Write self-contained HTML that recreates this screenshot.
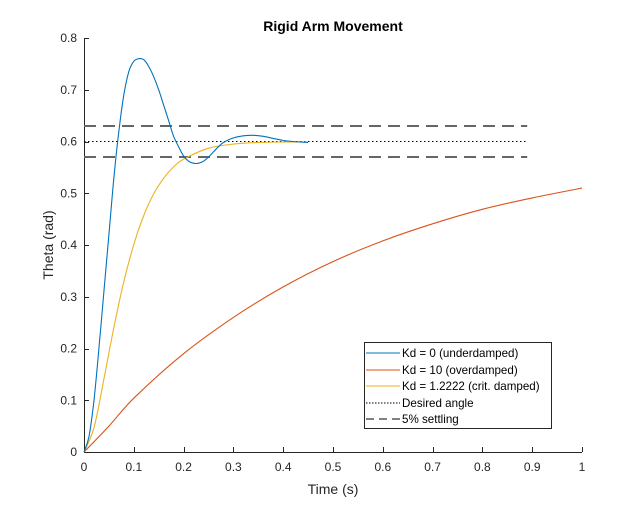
<!DOCTYPE html>
<html><head><meta charset="utf-8"><style>
body{margin:0;background:#fff;}
svg text{font-family:"Liberation Sans",Arial,sans-serif;}
</style></head><body>
<svg id="chart" width="644" height="508" xmlns="http://www.w3.org/2000/svg">
<rect width="644" height="508" fill="#fff"/>
<text x="333" y="31" text-anchor="middle" font-size="14" font-weight="bold" fill="#000">Rigid Arm Movement</text>
<g id="axes"></g>
<g id="series"></g>
<text x="333" y="494" text-anchor="middle" font-size="14" fill="#262626">Time (s)</text>
<text transform="translate(53,245) rotate(-90)" text-anchor="middle" font-size="14" fill="#262626">Theta (rad)</text>
<g>
<rect x="364.5" y="342.5" width="187" height="86" fill="#fff" stroke="#262626" stroke-width="1"/>
<line x1="366" y1="353" x2="400" y2="353" stroke="#0072BD"/>
<text x="402" y="357" font-size="11.6">Kd = 0 (underdamped)</text>
<line x1="366" y1="370" x2="400" y2="370" stroke="#D95319"/>
<text x="402" y="374" font-size="11.6">Kd = 10 (overdamped)</text>
<line x1="366" y1="386" x2="400" y2="386" stroke="#EDB120"/>
<text x="402" y="390" font-size="11.6">Kd = 1.2222 (crit. damped)</text>
<line x1="366" y1="403" x2="400" y2="403" stroke="#000" stroke-dasharray="1.5 1.5"/>
<text x="402" y="407" font-size="11.6">Desired angle</text>
<line x1="366" y1="419" x2="400" y2="419" stroke="#000" stroke-dasharray="8 5"/>
<text x="402" y="423" font-size="11.6">5% settling</text>
</g>
</svg>
<script>
const xTicks=[0,0.1,0.2,0.3,0.4,0.5,0.6,0.7,0.8,0.9,1];
const yTicks=[0,0.1,0.2,0.3,0.4,0.5,0.6,0.7,0.8];
const xTickLabels=["0","0.1","0.2","0.3","0.4","0.5","0.6","0.7","0.8","0.9","1"];
const yTickLabels=["0","0.1","0.2","0.3","0.4","0.5","0.6","0.7","0.8"];
const tUnder=[0,.01,.02,.03,.04,.05,.06,.07,.08,.09,.10,.11,.12,.13,.14,.15,.16,.17,.18,.19,.20,.21,.22,.23,.24,.25,.26,.27,.28,.30,.32,.34,.36,.38,.40,.42,.45];
const thetaUnder=[0,.03,.1,.2,.31,.42,.53,.62,.69,.735,.755,.76,.758,.745,.725,.70,.67,.64,.61,.59,.572,.562,.558,.558,.562,.57,.58,.59,.598,.607,.611,.612,.61,.606,.602,.600,.598];
const tOver=[0,.05,.1,.2,.3,.4,.5,.6,.7,.8,.9,1];
const thetaOver=[0,.05,.104,.19,.26,.319,.368,.408,.441,.469,.491,.51];
const tCrit=[0,.02,.04,.06,.08,.1,.12,.14,.16,.18,.2,.25,.3,.35,.4,.45];
const thetaCrit=[0,.047,.141,.241,.329,.401,.457,.499,.529,.551,.566,.587,.595,.598,.599,.599];
const desired=[0.6];
const settleBands=[0.57,0.63];
const refEnd=[0.89];
const X=v=>84+v*498, Y=v=>452-v*517.5;
const NS="http://www.w3.org/2000/svg";
const ax=document.getElementById('axes'), se=document.getElementById('series');
function mk(tag,attrs,parent){const e=document.createElementNS(NS,tag);for(const k in attrs)e.setAttribute(k,attrs[k]);parent.appendChild(e);return e;}
let a=mk('line',{x1:84,y1:452.5,x2:582,y2:452.5,stroke:'#262626'},ax);


a=mk('line',{x1:84.5,y1:38,x2:84.5,y2:452,stroke:'#262626'},ax);


xTicks.forEach((v,i)=>{const x=Math.round(X(v))+.5;
mk('line',{x1:x,y1:452,x2:x,y2:447,stroke:'#262626'},ax);
const t=mk('text',{x:X(v),y:471,'text-anchor':'middle','font-size':12,fill:'#262626'},ax);t.textContent=xTickLabels[i];

});
yTicks.forEach((v,i)=>{const y=Math.round(Y(v))+.5;
mk('line',{x1:84,y1:y,x2:89,y2:y,stroke:'#262626'},ax);
const t=mk('text',{x:77,y:Y(v)+4,'text-anchor':'end','font-size':12,fill:'#262626'},ax);t.textContent=yTickLabels[i];

});
settleBands.forEach(v=>{const l=mk('line',{x1:X(0),y1:Y(v),x2:X(refEnd[0]),y2:Y(v),stroke:'#666','stroke-width':2,'stroke-dasharray':'12 7'},se);

});
const d=mk('line',{x1:X(0),y1:Y(desired[0]),x2:X(refEnd[0]),y2:Y(desired[0]),stroke:'#000','stroke-dasharray':'1.5 2.5'},se);


function path(ts,vs,c,n){
const P=ts.map((t,i)=>[X(t),Y(vs[i])]);
let s='M'+P[0][0].toFixed(1)+' '+P[0][1].toFixed(1);
for(let i=0;i<P.length-1;i++){const p0=P[Math.max(0,i-1)],p1=P[i],p2=P[i+1],p3=P[Math.min(P.length-1,i+2)];
const c1=[p1[0]+(p2[0]-p0[0])/6,p1[1]+(p2[1]-p0[1])/6],c2=[p2[0]-(p3[0]-p1[0])/6,p2[1]-(p3[1]-p1[1])/6];
s+='C'+c1.map(v=>v.toFixed(1)).join(' ')+' '+c2.map(v=>v.toFixed(1)).join(' ')+' '+p2.map(v=>v.toFixed(1)).join(' ');}
const p=mk('path',{d:s,fill:'none',stroke:c,'stroke-width':1.1,'stroke-linejoin':'round'},se);

}
path(tOver,thetaOver,'#D95319','overdamped-line');
path(tCrit,thetaCrit,'#EDB120','crit-damped-line');
path(tUnder,thetaUnder,'#0072BD','underdamped-line');
</script>
</body></html>
